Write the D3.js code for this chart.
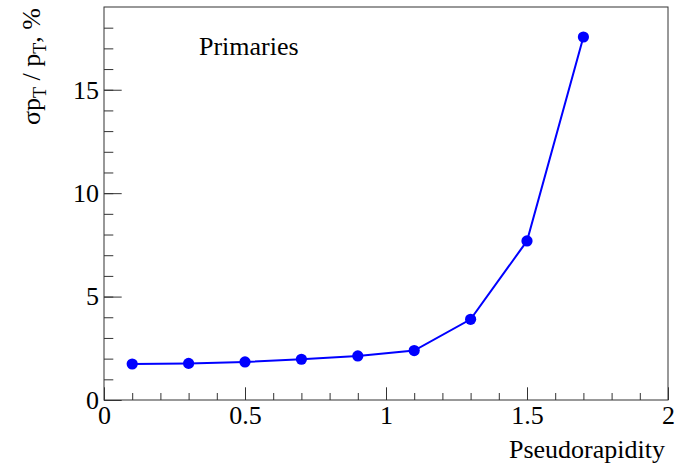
<!DOCTYPE html>
<html>
<head>
<meta charset="utf-8">
<script src="https://cdn.jsdelivr.net/npm/d3@7"></script>
<style>
  html, body { margin: 0; padding: 0; background: #fff; }
  svg { display: block; }
  .axis text { font-family: "Liberation Serif", "Times New Roman", serif; font-size: 26px; fill: #000; }
  .axis line { stroke: #333; stroke-width: 1; }
  .axis path { display: none; }
</style>
</head>
<body>
<svg id="chart" width="682" height="466"></svg>
<script>
// Pseudorapidity bins and relative pT resolution (%) for primary tracks
const eta = [0.1, 0.3, 0.5, 0.7, 0.9, 1.1, 1.3, 1.5, 1.7];
const resolution = [1.74, 1.77, 1.84, 1.97, 2.13, 2.39, 3.90, 7.69, 17.55];
const xMajorTicks = [0, 0.5, 1, 1.5, 2];
const yMajorTicks = [0, 5, 10, 15];
const xTickLabels = ["0", "0.5", "1", "1.5", "2"];
const yTickLabels = ["0", "5", "10", "15"];

const svg = d3.select("#chart");
const frame = { left: 104, right: 668, top: 7, bottom: 400 };

const x = d3.scaleLinear().domain([0, 2]).range([frame.left, frame.right]);
const y = d3.scaleLinear().domain([0, 19]).range([frame.bottom, frame.top]);

// Minor ticks
svg.append("g").attr("class", "axis")
  .attr("transform", `translate(0,${frame.bottom})`)
  .call(d3.axisBottom(x).tickValues(d3.range(0, 21).map(i => i / 10)).tickSize(-7).tickFormat(""));
svg.append("g").attr("class", "axis")
  .attr("transform", `translate(${frame.left},0)`)
  .call(d3.axisLeft(y).tickValues(d3.range(0, 19)).tickSize(-9.3).tickFormat(""));

// Major ticks with labels
svg.append("g").attr("class", "axis")
  .attr("transform", `translate(0,${frame.bottom})`)
  .call(d3.axisBottom(x).tickValues(xMajorTicks).tickSize(-12.7).tickPadding(6)
    .tickFormat((d, i) => xTickLabels[i]));
svg.append("g").attr("class", "axis")
  .attr("transform", `translate(${frame.left},0)`)
  .call(d3.axisLeft(y).tickValues(yMajorTicks).tickSize(-17.7).tickPadding(5)
    .tickFormat((d, i) => yTickLabels[i]));

// Frame
svg.append("rect")
  .attr("x", frame.left).attr("y", frame.top)
  .attr("width", frame.right - frame.left).attr("height", frame.bottom - frame.top)
  .attr("fill", "none").attr("stroke", "#333").attr("stroke-width", 1);

// Data line and markers
const pts = eta.map((e, i) => [e, resolution[i]]);
svg.append("path")
  .datum(pts)
  .attr("fill", "none")
  .attr("stroke", "#0000ff")
  .attr("stroke-width", 2)
  .attr("d", d3.line().x(d => x(d[0])).y(d => y(d[1])));
svg.append("g").selectAll("circle")
  .data(pts).join("circle")
  .attr("cx", d => x(d[0])).attr("cy", d => y(d[1]))
  .attr("r", 5.6).attr("fill", "#0000ff");

// Labels
const serif = "'Liberation Serif', 'Times New Roman', serif";
svg.append("text")
  .attr("x", 199).attr("y", 55)
  .attr("font-family", serif).attr("font-size", 26)
  .text("Primaries");

svg.append("text")
  .attr("x", 665).attr("y", 458)
  .attr("text-anchor", "end")
  .attr("font-family", serif).attr("font-size", 26)
  .text("Pseudorapidity");

const yTitle = svg.append("text")
  .attr("transform", "translate(40,8) rotate(-90)")
  .attr("text-anchor", "end")
  .attr("font-family", serif).attr("font-size", 26);
yTitle.append("tspan").text("σp");
yTitle.append("tspan").attr("font-size", 18).attr("dy", 6).text("T");
yTitle.append("tspan").attr("dy", -6).text(" / p");
yTitle.append("tspan").attr("font-size", 18).attr("dy", 6).text("T");
yTitle.append("tspan").attr("dy", -6).text(", %");
</script>
</body>
</html>
